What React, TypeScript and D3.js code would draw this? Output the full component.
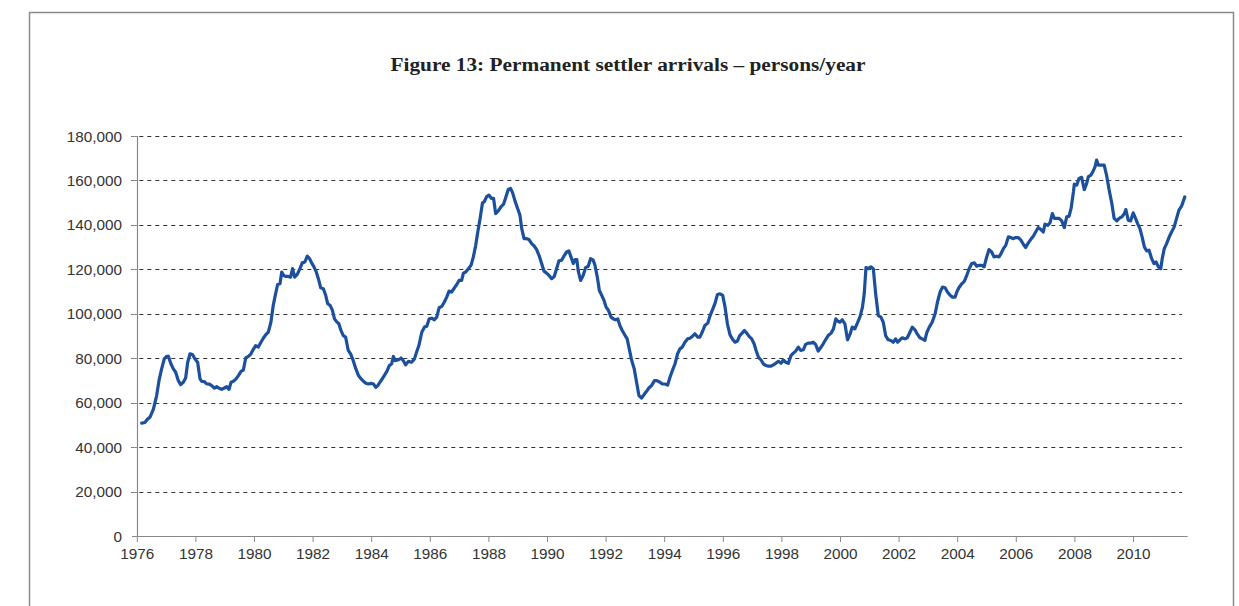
import React from "react";
import * as d3 from "d3";

// Permanent settler arrivals (thousands of persons/year), [decimal year, value]
const arrivals1976: [number, number][] = [
  [1976.15, 50.8], [1976.26, 51.1], [1976.35, 52.6], [1976.43, 53.4], [1976.55, 57.1], [1976.66, 63.2],
  [1976.74, 69.9], [1976.83, 75.2], [1976.92, 79.7], [1977.0, 80.8], [1977.06, 80.9], [1977.15, 77.4],
  [1977.23, 75.2], [1977.31, 73.7], [1977.4, 69.9], [1977.48, 68.1], [1977.57, 69.2], [1977.65, 71.1],
  [1977.72, 78.2], [1977.8, 82.0], [1977.88, 81.7], [1977.97, 79.7], [1978.06, 78.2], [1978.14, 70.7],
  [1978.2, 69.6], [1978.29, 69.5], [1978.37, 68.4], [1978.45, 68.4], [1978.54, 67.7], [1978.63, 66.5],
  [1978.71, 67.2], [1978.79, 66.5], [1978.88, 66.0], [1978.97, 66.6], [1979.05, 67.2], [1979.13, 66.0],
  [1979.2, 69.2], [1979.28, 69.6], [1979.37, 70.7], [1979.45, 72.2], [1979.54, 74.1], [1979.62, 74.7],
  [1979.7, 80.1], [1979.79, 80.8], [1979.88, 82.0], [1979.96, 84.0], [1980.04, 85.7], [1980.13, 85.0],
  [1980.22, 87.2], [1980.3, 89.0], [1980.38, 90.5], [1980.47, 91.7], [1980.56, 96.2], [1980.64, 103.8],
  [1980.72, 109.0], [1980.79, 113.2], [1980.87, 113.5], [1980.93, 118.8], [1980.99, 117.3], [1981.06, 116.8],
  [1981.15, 116.8], [1981.23, 116.5], [1981.3, 120.3], [1981.37, 116.5], [1981.46, 117.7], [1981.55, 120.3],
  [1981.63, 122.9], [1981.72, 123.3], [1981.8, 125.9], [1981.88, 124.8], [1981.95, 122.9], [1982.03, 121.1],
  [1982.1, 119.1], [1982.18, 115.8], [1982.26, 111.7], [1982.35, 111.3], [1982.43, 108.3], [1982.5, 104.5],
  [1982.58, 103.8], [1982.66, 101.5], [1982.73, 97.7], [1982.8, 96.5], [1982.88, 95.5], [1982.95, 92.5],
  [1983.03, 90.2], [1983.11, 89.5], [1983.2, 83.5], [1983.29, 81.7], [1983.37, 78.9], [1983.46, 75.2],
  [1983.55, 72.2], [1983.64, 70.7], [1983.72, 69.6], [1983.8, 68.7], [1983.88, 68.4], [1983.98, 68.7],
  [1984.06, 68.4], [1984.14, 66.9], [1984.21, 67.7], [1984.28, 69.2], [1984.36, 70.7], [1984.45, 72.6],
  [1984.53, 74.4], [1984.6, 76.7], [1984.68, 77.4], [1984.74, 80.8], [1984.8, 78.9], [1984.89, 79.2],
  [1984.97, 79.7],
];

const arrivals1985: [number, number][] = [
  [1985.0, 80.1], [1985.08, 78.9], [1985.16, 77.0], [1985.25, 78.6], [1985.36, 78.2], [1985.46, 79.7],
  [1985.53, 82.7], [1985.61, 85.7], [1985.71, 91.7], [1985.8, 94.0], [1985.88, 94.4], [1985.96, 97.7],
  [1986.05, 98.0], [1986.14, 97.3], [1986.22, 98.5], [1986.3, 102.7], [1986.39, 103.3], [1986.48, 105.3],
  [1986.56, 107.5], [1986.64, 110.2], [1986.73, 109.8], [1986.82, 111.6], [1986.9, 113.1], [1986.98, 115.0],
  [1987.07, 115.0], [1987.13, 118.3], [1987.21, 118.8], [1987.3, 120.3], [1987.39, 121.8], [1987.47, 125.6],
  [1987.55, 130.8], [1987.62, 136.8], [1987.7, 142.9], [1987.78, 149.9], [1987.84, 150.4], [1987.92, 152.6],
  [1988.0, 153.4], [1988.09, 151.9], [1988.16, 151.9], [1988.23, 145.1], [1988.32, 146.3], [1988.41, 148.1],
  [1988.5, 149.3], [1988.58, 152.6], [1988.66, 155.9], [1988.74, 156.4], [1988.81, 154.4], [1988.89, 150.8],
  [1988.98, 147.4], [1989.06, 144.4], [1989.12, 138.3], [1989.2, 133.8], [1989.29, 133.8], [1989.37, 133.4],
  [1989.46, 131.6], [1989.55, 130.4], [1989.63, 128.9], [1989.71, 126.3], [1989.8, 122.6], [1989.88, 119.2],
  [1989.97, 118.3], [1990.05, 117.3], [1990.14, 115.8], [1990.23, 116.8], [1990.31, 120.3], [1990.39, 123.8],
  [1990.48, 124.1], [1990.56, 125.9], [1990.65, 127.8], [1990.73, 128.3], [1990.8, 125.6], [1990.88, 122.6],
  [1990.94, 124.4], [1991.0, 124.4], [1991.05, 119.2], [1991.13, 115.0], [1991.22, 117.3], [1991.3, 120.8],
  [1991.39, 121.4], [1991.47, 124.8], [1991.56, 124.1], [1991.62, 121.8], [1991.7, 116.5], [1991.77, 110.5],
  [1991.85, 108.3], [1991.93, 106.0], [1992.0, 103.0], [1992.08, 101.5], [1992.17, 98.5], [1992.25, 97.7],
  [1992.33, 97.3], [1992.4, 97.7], [1992.47, 94.7], [1992.55, 92.5], [1992.65, 90.2], [1992.72, 88.7],
  [1992.79, 84.2], [1992.87, 79.2], [1992.96, 75.2], [1993.04, 69.2], [1993.12, 63.2], [1993.21, 62.1],
  [1993.31, 63.9], [1993.38, 65.1], [1993.46, 66.6], [1993.55, 67.7], [1993.65, 69.9], [1993.73, 69.9],
  [1993.84, 69.2],
];

const arrivals1994: [number, number][] = [
  [1993.92, 68.4], [1994.01, 68.4], [1994.1, 67.9], [1994.18, 71.4], [1994.26, 74.4], [1994.35, 77.4],
  [1994.44, 82.0], [1994.52, 84.2], [1994.6, 85.0], [1994.69, 87.2], [1994.78, 88.7], [1994.86, 89.0],
  [1994.94, 89.8], [1995.03, 91.0], [1995.13, 89.5], [1995.2, 89.5], [1995.28, 91.7], [1995.37, 94.7],
  [1995.47, 95.8], [1995.55, 99.2], [1995.63, 101.8], [1995.72, 104.8], [1995.8, 108.7], [1995.89, 109.0],
  [1995.98, 108.3], [1996.06, 103.0], [1996.14, 95.5], [1996.23, 90.5], [1996.31, 88.7], [1996.4, 87.2],
  [1996.48, 87.7], [1996.56, 90.2], [1996.65, 91.4], [1996.72, 92.5], [1996.8, 91.3], [1996.88, 89.8],
  [1996.97, 88.7], [1997.05, 86.5], [1997.12, 83.5], [1997.2, 80.4], [1997.29, 79.2], [1997.37, 77.4],
  [1997.46, 76.7], [1997.54, 76.4], [1997.63, 76.4], [1997.71, 77.0], [1997.79, 77.7], [1997.88, 78.6],
  [1997.97, 77.7], [1998.05, 79.2], [1998.13, 78.2], [1998.22, 77.7], [1998.31, 81.2], [1998.39, 82.3],
  [1998.47, 83.2], [1998.56, 85.0], [1998.64, 83.5], [1998.73, 83.8], [1998.81, 86.2], [1998.9, 86.8],
  [1998.99, 86.8], [1999.07, 87.2], [1999.15, 86.2], [1999.24, 83.2], [1999.32, 84.7], [1999.41, 86.5],
  [1999.49, 88.3], [1999.58, 90.2], [1999.68, 91.3], [1999.76, 93.2], [1999.84, 97.7], [1999.9, 96.7],
  [1999.98, 96.2], [2000.06, 97.3], [2000.15, 95.5], [2000.24, 88.3], [2000.33, 91.0], [2000.4, 94.0],
  [2000.49, 93.2], [2000.59, 96.2], [2000.67, 98.8], [2000.75, 103.0], [2000.81, 109.0], [2000.87, 120.8],
  [2000.95, 120.3], [2001.04, 121.1], [2001.12, 120.3], [2001.2, 109.0], [2001.29, 99.2], [2001.38, 98.5],
  [2001.46, 96.2], [2001.54, 90.2], [2001.63, 88.3], [2001.72, 88.0], [2001.8, 87.2], [2001.88, 88.7],
  [2001.95, 87.2], [2002.03, 88.3], [2002.11, 89.2], [2002.2, 88.7], [2002.28, 89.2], [2002.37, 91.7],
  [2002.45, 94.0], [2002.54, 92.8], [2002.63, 90.7], [2002.71, 89.2],
];

const arrivals2003: [number, number][] = [
  [2002.79, 88.7], [2002.88, 88.0], [2002.95, 91.7], [2003.03, 94.0], [2003.13, 96.2], [2003.23, 100.0],
  [2003.31, 105.3], [2003.4, 109.8], [2003.48, 112.0], [2003.57, 111.7], [2003.65, 109.8], [2003.74, 108.3],
  [2003.82, 107.5], [2003.91, 107.5], [2003.97, 109.8], [2004.04, 111.7], [2004.14, 113.5], [2004.23, 114.7],
  [2004.31, 117.3], [2004.39, 120.3], [2004.48, 122.6], [2004.57, 122.9], [2004.65, 121.4], [2004.73, 121.8],
  [2004.82, 121.8], [2004.9, 121.1], [2004.99, 125.6], [2005.07, 128.9], [2005.16, 127.8], [2005.24, 125.6],
  [2005.33, 125.9], [2005.41, 125.6], [2005.48, 127.1], [2005.56, 129.3], [2005.64, 130.8], [2005.73, 134.6],
  [2005.81, 134.3], [2005.9, 133.8], [2005.98, 134.3], [2006.07, 134.3], [2006.16, 133.1], [2006.24, 131.3],
  [2006.32, 129.8], [2006.41, 131.9], [2006.49, 133.4], [2006.58, 134.9], [2006.66, 136.8], [2006.75, 138.8],
  [2006.84, 137.9], [2006.92, 136.8], [2006.98, 140.3], [2007.07, 139.8], [2007.15, 140.9], [2007.23, 145.1],
  [2007.3, 142.9], [2007.38, 142.9], [2007.46, 142.9], [2007.55, 141.8], [2007.64, 138.8], [2007.72, 143.6],
  [2007.8, 143.9], [2007.87, 147.4], [2007.95, 154.9], [2007.98, 158.3], [2008.06, 157.9], [2008.14, 160.9],
  [2008.23, 161.4], [2008.32, 155.9], [2008.4, 158.6], [2008.46, 161.7], [2008.55, 162.4], [2008.63, 164.4],
  [2008.69, 166.2], [2008.74, 169.2], [2008.8, 166.9], [2008.89, 166.9], [2009.0, 166.9], [2009.08, 162.4],
  [2009.16, 156.4], [2009.26, 149.6], [2009.34, 142.9], [2009.43, 141.8], [2009.51, 142.9], [2009.6, 143.6],
  [2009.69, 145.1], [2009.74, 146.9], [2009.82, 142.1], [2009.9, 141.8], [2009.99, 145.4], [2010.07, 142.9],
  [2010.14, 140.6], [2010.22, 138.3], [2010.3, 134.3], [2010.37, 130.1], [2010.45, 128.3], [2010.53, 128.6],
  [2010.62, 124.8], [2010.7, 122.6], [2010.77, 123.3], [2010.85, 121.1], [2010.93, 120.3], [2010.98, 124.8],
  [2011.05, 129.3], [2011.13, 131.6], [2011.21, 134.3], [2011.3, 136.8], [2011.39, 139.1], [2011.47, 142.9],
  [2011.55, 146.6], [2011.64, 148.4], [2011.75, 152.6],
];

const yTicks = [0, 20000, 40000, 60000, 80000, 100000, 120000, 140000, 160000, 180000];
const xTicks = [1976, 1978, 1980, 1982, 1984, 1986, 1988, 1990, 1992, 1994, 1996, 1998, 2000, 2002, 2004, 2006, 2008, 2010];
const title = "Figure 13: Permanent settler arrivals – persons/year";

export default function App() {
  const data = [...arrivals1976, ...arrivals1985, ...arrivals1994, ...arrivals2003];
  const x = d3.scaleLinear().domain([1976, 2011.85]).range([137.3, 1187.7]);
  const y = d3.scaleLinear().domain([0, 180000]).range([536, 136]);
  const line = d3
    .line<[number, number]>()
    .x((d) => x(d[0]))
    .y((d) => y(d[1] * 1000));
  const fmt = d3.format(",");
  const gridEnd = 1182;
  const labelFont = "'Liberation Sans', Arial, sans-serif";

  return (
    <svg
      width={1239}
      height={606}
      style={{ position: "absolute", left: 0, top: 0, background: "#fff" }}
    >
      <rect x={0} y={0} width={1239} height={606} fill="#fff" />
      <rect x={29.5} y={12.5} width={1204} height={700} fill="none" stroke="#8a8a8a" strokeWidth={1.5} />
      <text
        x={628}
        y={71}
        textAnchor="middle"
        fontFamily="'Liberation Serif', 'DejaVu Serif', serif"
        fontWeight="bold"
        fontSize={18}
        fill="#222"
        textLength={475}
        lengthAdjust="spacingAndGlyphs"
      >
        {title}
      </text>

      {/* gridlines */}
      {yTicks.slice(1).map((t) => (
        <line
          key={"g" + t}
          x1={x.range()[0] - 6}
          x2={gridEnd}
          y1={Math.round(y(t)) + 0.5}
          y2={Math.round(y(t)) + 0.5}
          stroke="#333"
          strokeWidth={1}
          strokeDasharray="4,4"
        />
      ))}

      {/* y axis */}
      <line x1={137.5} x2={137.5} y1={136} y2={536} stroke="#888" strokeWidth={1.2} />
      {yTicks.map((t) => (
        <g key={"y" + t}>
          <line x1={132} x2={137.5} y1={Math.round(y(t)) + 0.5} y2={Math.round(y(t)) + 0.5} stroke="#888" />
          <text
            x={122}
            y={y(t)}
            dy="0.36em"
            textAnchor="end"
            fontFamily={labelFont}
            fontSize={15.3}
            fill="#333"
          >
            {fmt(t)}
          </text>
        </g>
      ))}

      {/* x axis */}
      <line x1={137.3} x2={1187.7} y1={536.5} y2={536.5} stroke="#888" strokeWidth={1.2} />
      {xTicks.map((t) => (
        <g key={"x" + t}>
          <line x1={x(t)} x2={x(t)} y1={536.5} y2={542} stroke="#888" />
          <text
            x={x(t)}
            y={559}
            textAnchor="middle"
            fontFamily={labelFont}
            fontSize={15.3}
            fill="#333"
          >
            {t}
          </text>
        </g>
      ))}

      <path
        d={line(data) || ""}
        fill="none"
        stroke="#1c4f9c"
        strokeWidth={3.2}
        strokeLinejoin="round"
        strokeLinecap="round"
      />
    </svg>
  );
}
